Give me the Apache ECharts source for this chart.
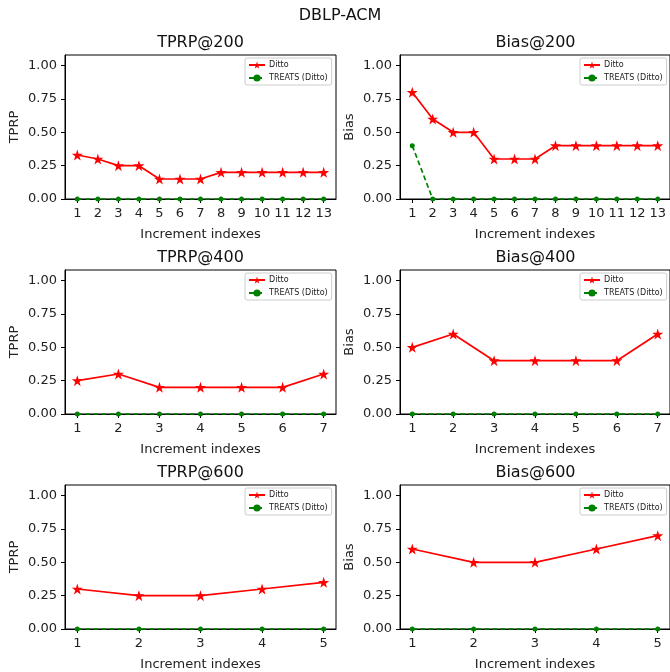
<!DOCTYPE html>
<html>
<head>
<meta charset="utf-8">
<script src="https://cdn.jsdelivr.net/npm/echarts@6/dist/echarts.min.js"></script>
<style>html,body{margin:0;padding:0;background:#fff}#c{width:670px;height:672px}</style>
</head>
<body>
<div id="c"></div>
<script>
// ---- data ----
const idx200 = [1,2,3,4,5,6,7,8,9,10,11,12,13];
const idx400 = [1,2,3,4,5,6,7];
const idx600 = [1,2,3,4,5];

const tprp200Ditto  = [0.33,0.30,0.25,0.25,0.15,0.15,0.15,0.20,0.20,0.20,0.20,0.20,0.20];
const tprp200Treats = [0,0,0,0,0,0,0,0,0,0,0,0,0];
const bias200Ditto  = [0.80,0.60,0.50,0.50,0.30,0.30,0.30,0.40,0.40,0.40,0.40,0.40,0.40];
const bias200Treats = [0.40,0,0,0,0,0,0,0,0,0,0,0,0];

const tprp400Ditto  = [0.25,0.30,0.20,0.20,0.20,0.20,0.30];
const tprp400Treats = [0,0,0,0,0,0,0];
const bias400Ditto  = [0.50,0.60,0.40,0.40,0.40,0.40,0.60];
const bias400Treats = [0,0,0,0,0,0,0];

const tprp600Ditto  = [0.30,0.25,0.25,0.30,0.35];
const tprp600Treats = [0,0,0,0,0];
const bias600Ditto  = [0.60,0.50,0.50,0.60,0.70];
const bias600Treats = [0,0,0,0,0];

const yTicks = [0,0.25,0.5,0.75,1.0];
const seriesNames = ['Ditto','TREATS (Ditto)'];

const panels = [
  {title:'TPRP@200', ylabel:'TPRP', x:idx200, a:tprp200Ditto, b:tprp200Treats},
  {title:'Bias@200', ylabel:'Bias', x:idx200, a:bias200Ditto, b:bias200Treats},
  {title:'TPRP@400', ylabel:'TPRP', x:idx400, a:tprp400Ditto, b:tprp400Treats},
  {title:'Bias@400', ylabel:'Bias', x:idx400, a:bias400Ditto, b:bias400Treats},
  {title:'TPRP@600', ylabel:'TPRP', x:idx600, a:tprp600Ditto, b:tprp600Treats},
  {title:'Bias@600', ylabel:'Bias', x:idx600, a:bias600Ditto, b:bias600Treats},
];

// ---- layout ----
const FONT = 'DejaVu Sans';
const colLeft = [65, 400];
const rowTop = [55, 270, 485];
const gw = 271, gh = 144;
const star = 'path://M50,0 L61.2,34.5 L97.6,34.5 L68.2,55.9 L79.4,90.5 L50,69.1 L20.6,90.5 L31.8,55.9 L2.4,34.5 L38.8,34.5 Z';

const option = {
  backgroundColor:'#fff',
  animation:false,
  title:[{text:'DBLP-ACM', left:340, top:8, textAlign:'center', padding:0,
          textStyle:{fontFamily:FONT, fontSize:16, fontWeight:'normal', color:'#111'}}],
  legend:[], grid:[], xAxis:[], yAxis:[], series:[]
};

panels.forEach((p,i)=>{
  const col = i%2, row = Math.floor(i/2);
  const L = colLeft[col], T = rowTop[row];
  const n = p.x.length;
  const m = 0.05*(p.x[n-1]-p.x[0]);
  option.grid.push({left:L, top:T, width:gw, height:gh, show:true,
    borderColor:'#000', borderWidth:1, backgroundColor:'transparent', containLabel:false});
  option.title.push({text:p.title, left:L+gw/2, top:T-20, textAlign:'center', padding:0,
    textStyle:{fontFamily:FONT, fontSize:16, fontWeight:'normal', color:'#111'}});
  option.xAxis.push({type:'value', gridIndex:i, min:p.x[0]-m, max:p.x[n-1]+m,
    name:'Increment indexes', nameLocation:'middle', nameGap:29,
    nameTextStyle:{fontFamily:FONT, fontSize:13, color:'#222'},
    axisLine:{show:true, lineStyle:{color:'#000', width:1}},
    axisTick:{show:true, inside:false, length:4, lineStyle:{color:'#000'}, customValues:p.x},
    axisLabel:{fontFamily:FONT, fontSize:13, color:'#222', margin:8, customValues:p.x},
    splitLine:{show:false}});
  option.yAxis.push({type:'value', gridIndex:i, min:0, max:1.08,
    name:p.ylabel, nameLocation:'middle', nameGap:44, nameRotate:90,
    nameTextStyle:{fontFamily:FONT, fontSize:13, color:'#222'},
    axisLine:{show:true, lineStyle:{color:'#000', width:1}},
    axisTick:{show:true, inside:false, length:4, lineStyle:{color:'#000'}, customValues:yTicks},
    axisLabel:{fontFamily:FONT, fontSize:13, color:'#222', margin:8, customValues:yTicks,
      formatter:v=>v.toFixed(2)},
    splitLine:{show:false}});
  option.series.push({name:seriesNames[0], type:'line', xAxisIndex:i, yAxisIndex:i,
    data:p.x.map((x,k)=>[x,p.a[k]]), symbol:star, symbolSize:11, clip:false,
    lineStyle:{color:'#ff0000', width:1.7}, itemStyle:{color:'#ff0000'}, z:2});
  option.series.push({name:seriesNames[1], type:'line', xAxisIndex:i, yAxisIndex:i,
    data:p.x.map((x,k)=>[x,p.b[k]]), symbol:'circle', symbolSize:5, clip:false,
    lineStyle:{color:'#008000', width:1.7, type:[5,3]}, itemStyle:{color:'#008000'}, z:3});
  option.legend.push({data:seriesNames, orient:'vertical', left:L+180, top:T+3,
    itemWidth:16, itemHeight:9, itemGap:5, padding:[3,4,3,3],
    borderColor:'#ccc', borderWidth:1, borderRadius:2, backgroundColor:'rgba(255,255,255,0.8)',
    textStyle:{fontFamily:FONT, fontSize:8, color:'#222', padding:[0,0,0,-1]}, selectedMode:false});
});

const chart = echarts.init(document.getElementById('c'), null, {renderer:'canvas'});
chart.setOption(option);
</script>
</body>
</html>
